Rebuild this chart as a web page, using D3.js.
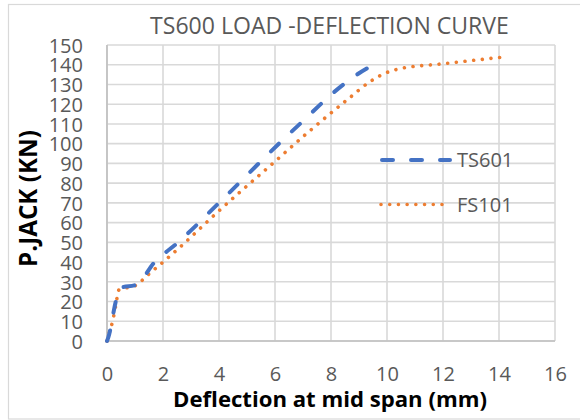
<!DOCTYPE html>
<html>
<head>
<meta charset="utf-8">
<script src="https://cdn.jsdelivr.net/npm/d3@7"></script>
<style>
  html, body { margin: 0; padding: 0; background: #ffffff; }
  svg { display: block; }
</style>
</head>
<body>
<svg id="chart" width="580" height="420"></svg>
<script>
// ---- data ----
const titleText = "TS600 LOAD -DEFLECTION CURVE";
const xTitle = "Deflection at mid span (mm)";
const yTitle = "P.JACK (KN)";
const seriesNames = ["TS601", "FS101"];

const ts601X = [0, 0.05, 0.35, 0.5, 1.05, 1.7, 2.5, 4.0, 6.25, 7.0, 8.1, 9.0, 9.45];
const ts601Y = [0, 2, 22, 27, 28.5, 40, 49.5, 70, 101.5, 111.5, 126, 135.7, 139.5];

const fs101X = [0, 0.1, 0.2, 0.3, 0.43, 1.0, 1.5, 2.0, 2.6, 4.0, 6.0, 7.2, 8.6, 9.4, 9.9, 10.4, 12.0, 14.1];
const fs101Y = [0, 5, 10, 17, 26, 28, 34, 40, 47.5, 66, 91, 106, 122.5, 131.5, 135.5, 137.8, 140.5, 143.8];

const xTicks = [0, 2, 4, 6, 8, 10, 12, 14, 16];
const yTicks = [0, 10, 20, 30, 40, 50, 60, 70, 80, 90, 100, 110, 120, 130, 140, 150];

// ---- layout ----
const svg = d3.select("#chart");
const font = "'Open Sans', 'Liberation Sans', sans-serif";
const plot = { left: 107, right: 555, top: 45, bottom: 341 };

const x = d3.scaleLinear().domain([0, 16]).range([plot.left, plot.right]);
const y = d3.scaleLinear().domain([0, 150]).range([plot.bottom, plot.top]);

// chart border
svg.append("rect")
  .attr("x", 8.5).attr("y", 4.5).attr("width", 600).attr("height", 414.5)
  .attr("fill", "#fff").attr("stroke", "#d9d9d9").attr("stroke-width", 1.2);

// gridlines
const grid = svg.append("g");
grid.selectAll("line.h").data(yTicks).join("line")
  .attr("x1", plot.left).attr("x2", plot.right)
  .attr("y1", d => y(d)).attr("y2", d => y(d))
  .attr("stroke", "#d9d9d9").attr("stroke-width", 1.6);
grid.selectAll("line.v").data(xTicks).join("line")
  .attr("x1", d => x(d)).attr("x2", d => x(d))
  .attr("y1", plot.top).attr("y2", plot.bottom)
  .attr("stroke", "#d9d9d9").attr("stroke-width", 1.6);

// axes (labels only, via d3 axis)
const yAxis = d3.axisLeft(y).tickValues(yTicks).tickSize(0).tickPadding(0);
const gy = svg.append("g").attr("transform", `translate(83,0)`).call(yAxis);
gy.select(".domain").remove();
gy.selectAll("text").attr("font-family", font).attr("font-size", 20)
  .attr("fill", "#595959").attr("dy", "0.36em").attr("x", 0);

const xAxis = d3.axisBottom(x).tickValues(xTicks).tickSize(0).tickPadding(0);
const gx = svg.append("g").attr("transform", `translate(0,${plot.bottom})`).call(xAxis);
gx.select(".domain").remove();
gx.selectAll("text").attr("font-family", font).attr("font-size", 20)
  .attr("fill", "#595959").attr("dy", null).attr("y", 40);

// axis lines
svg.append("line").attr("x1", plot.left).attr("x2", plot.left)
  .attr("y1", plot.top).attr("y2", plot.bottom).attr("stroke", "#bfbfbf").attr("stroke-width", 1.6);
svg.append("line").attr("x1", plot.left).attr("x2", plot.right)
  .attr("y1", plot.bottom).attr("y2", plot.bottom).attr("stroke", "#bfbfbf").attr("stroke-width", 1.6);

// lines
const lineGen = d3.line().x(d => x(d[0])).y(d => y(d[1])).curve(d3.curveMonotoneX);
const tsData = ts601X.map((v, i) => [v, ts601Y[i]]);
const fsData = fs101X.map((v, i) => [v, fs101Y[i]]);

const styles = [
  { color: "#4472C4", width: 4, dash: "11,18" },
  { color: "#ED7D31", width: 3.6, dash: "0.01,8.7" }
];

svg.append("path").datum(fsData).attr("d", lineGen)
  .attr("fill", "none").attr("stroke", styles[1].color).attr("stroke-width", styles[1].width)
  .attr("stroke-dasharray", styles[1].dash).attr("stroke-linecap", "round");
svg.append("path").datum(tsData).attr("d", lineGen)
  .attr("fill", "none").attr("stroke", styles[0].color).attr("stroke-width", styles[0].width)
  .attr("stroke-dasharray", styles[0].dash).attr("stroke-linecap", "round");

// legend
const legendY = [160, 204.5];
seriesNames.forEach((name, i) => {
  svg.append("line").attr("x1", i === 0 ? 382 : 381).attr("x2", 450)
    .attr("y1", legendY[i]).attr("y2", legendY[i])
    .attr("stroke", styles[i].color).attr("stroke-width", styles[i].width)
    .attr("stroke-dasharray", styles[i].dash).attr("stroke-linecap", "round");
  svg.append("text").attr("x", 457).attr("y", legendY[i]).attr("dy", "0.36em")
    .attr("font-family", font).attr("font-size", 20).attr("fill", "#595959").text(name);
});

// fit helper
function fit(sel, target) {
  const w = sel.node().getComputedTextLength();
  const fs = parseFloat(sel.attr("font-size"));
  sel.attr("font-size", fs * target / w);
}

// title
const t = svg.append("text").attr("x", 329.5).attr("y", 33.5).attr("text-anchor", "middle")
  .attr("font-family", font).attr("font-size", 22).attr("fill", "#595959").text(titleText);
fit(t, 359);

// x title
const xt = svg.append("text").attr("x", 330).attr("y", 407).attr("text-anchor", "middle")
  .attr("font-family", font).attr("font-weight", "bold").attr("font-size", 20)
  .attr("fill", "#000").text(xTitle);
fit(xt, 314);

// y title
const yt = svg.append("text").attr("transform", "translate(36.5,198.5) rotate(-90)")
  .attr("text-anchor", "middle")
  .attr("font-family", font).attr("font-weight", "bold").attr("font-size", 20)
  .attr("fill", "#000").text(yTitle);
fit(yt, 137);
</script>
</body>
</html>
